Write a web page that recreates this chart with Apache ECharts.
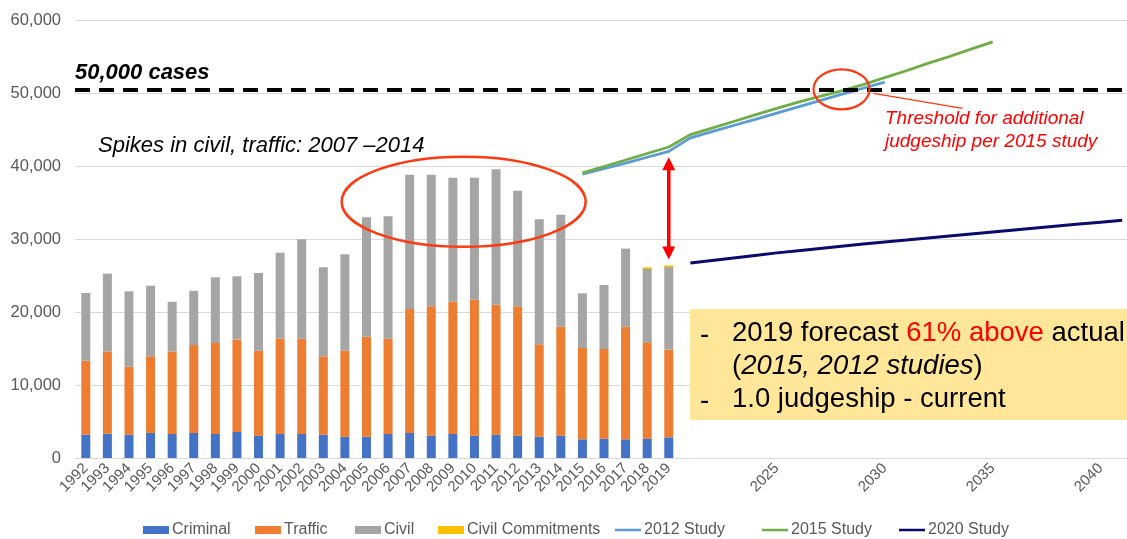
<!DOCTYPE html>
<html>
<head>
<meta charset="utf-8">
<script src="https://cdn.jsdelivr.net/npm/echarts@6/dist/echarts.min.js"></script>
<style>
  html, body { margin: 0; padding: 0; background: #fff; overflow: hidden; }
  /* the plot area runs a few pixels past the right edge of the window */
  #chart { width: 1133px; height: 539px; }
</style>
</head>
<body>
<div id="chart"></div>
<script>
// years on the category axis (2020 is not in the sheet, forecasts start at 2021)
var years = [];
for (var y = 1992; y <= 2019; y++) years.push(String(y));
for (var y2 = 2021; y2 <= 2041; y2++) years.push(String(y2));

// historical filings, 1992-2019
var criminal = [3200, 3330, 3200, 3430, 3290, 3430, 3290, 3560, 3060, 3290, 3290, 3200, 2920, 2920,
  3290, 3430, 3060, 3290, 3060, 3200, 3060, 2920, 3060, 2560, 2650, 2560, 2650, 2830];
var traffic = [10130, 11270, 9300, 10500, 11310, 12050, 12460, 12690, 11640, 13060, 13060, 10730, 11780, 13700,
  13060, 16980, 17720, 18130, 18630, 17800, 17720, 12650, 14930, 12510, 12280, 15430, 13190, 12010];
var civil = [9270, 10650, 10330, 9670, 6800, 7420, 9000, 8640, 10640, 11780, 13600, 12190, 13200, 16350,
  16750, 18400, 18030, 16980, 16710, 18540, 15840, 17130, 15340, 7490, 8770, 10690, 10050, 11320];
var civilCommit = [null, null, null, null, null, null, null, null, null, null, null, null, null, null,
  null, null, null, null, null, null, null, null, null, null, null, null, 230, 230];

// forecasts
var study2012Years = ['2015', '2016', '2017', '2018', '2019', '2021', '2022', '2023', '2024', '2025',
  '2026', '2027', '2028', '2029', '2030'];
var study2012 = [38900, 39650, 40400, 41200, 42000, 43850, 44700, 45550, 46400, 47250,
  48100, 48950, 49800, 50650, 51500];
var study2015Years = ['2015', '2016', '2017', '2018', '2019', '2021', '2022', '2023', '2024', '2025',
  '2026', '2027', '2028', '2029', '2030', '2031', '2032', '2033', '2034', '2035'];
var study2015 = [39050, 39930, 40820, 41710, 42600, 44300, 45200, 46100, 47000, 47900,
  48750, 49550, 50300, 51150, 52100, 53050, 54050, 55000, 56000, 57000];
var study2020Years = ['2021', '2022', '2023', '2024', '2025', '2026', '2027', '2028', '2029', '2030', '2031',
  '2032', '2033', '2034', '2035', '2036', '2037', '2038', '2039', '2040', '2041'];
var study2020 = [26700, 27050, 27400, 27750, 28100, 28400, 28700, 29000, 29300, 29600, 29850,
  30150, 30420, 30690, 30960, 31230, 31500, 31770, 32040, 32310, 32580];

var threshold = 50500;
var yTicks = [0, 10000, 20000, 30000, 40000, 50000, 60000];

function pad(vals) {
  var out = years.map(function () { return null; });
  vals.forEach(function (v, i) { out[i] = v; });
  return out;
}
function place(ys, vals) {
  var out = years.map(function () { return null; });
  ys.forEach(function (yr, i) { out[years.indexOf(yr)] = vals[i]; });
  return out;
}

var chart = echarts.init(document.getElementById('chart'));
var font = 'Liberation Sans, Arial, sans-serif';
var grey = '#595959';
// thin line icon for the legend (bbox kept at full item height)
var lineIcon = 'path://M0,0L0.01,0M0,8L0.01,8M0,2.8H27V5.2H0Z';

// one legend per entry so the spacing follows the original
var legendItems = [
  ['Criminal', 'rect', 143], ['Traffic', 'rect', 255], ['Civil', 'rect', 355],
  ['Civil Commitments', 'rect', 438], ['2012 Study', lineIcon, 615],
  ['2015 Study', lineIcon, 762], ['2020 Study', lineIcon, 899]
];
var legends = legendItems.map(function (it) {
  return {
    left: it[2], bottom: 1, padding: 0, itemWidth: 26, itemHeight: 8,
    textStyle: { color: grey, fontSize: 16, fontFamily: font, padding: [0, 0, 0, -2] },
    data: [{ name: it[0], icon: it[1] }]
  };
});

function barSeries(name, data, color) {
  return {
    name: name, type: 'bar', stack: 'cases', barWidth: 9,
    itemStyle: { color: color }, data: pad(data)
  };
}
function lineSeries(name, ys, vals, color, width) {
  return {
    name: name, type: 'line', symbol: 'none', connectNulls: true,
    lineStyle: { color: color, width: width }, itemStyle: { color: color },
    data: place(ys, vals)
  };
}

var s2015 = lineSeries('2015 Study', study2015Years, study2015, '#70AD47', 2.8);
s2015.markLine = {
  silent: true, symbol: 'none',
  lineStyle: { color: '#000', width: 4, type: [15, 9] },
  label: {
    show: true, position: 'insideStartTop', distance: [0, 5],
    formatter: '50,000 cases', color: '#000', fontFamily: font,
    fontSize: 22, fontWeight: 'bold', fontStyle: 'italic'
  },
  data: [{ yAxis: threshold }]
};

chart.setOption({
  animation: false,
  textStyle: { fontFamily: font },
  grid: { left: 75, right: 0, top: 20, bottom: 81 },
  legend: legends,
  xAxis: {
    type: 'category', data: years,
    axisLine: { lineStyle: { color: '#d9d9d9' } },
    axisTick: { show: false },
    axisLabel: {
      rotate: 45, margin: 8, color: grey, fontSize: 15, fontFamily: font,
      hideOverlap: false,
      interval: function (i, v) { return +v <= 2019 || +v % 5 === 0; }
    }
  },
  yAxis: {
    type: 'value', min: yTicks[0], max: yTicks[yTicks.length - 1], interval: 10000,
    axisLine: { show: false }, axisTick: { show: false },
    splitLine: { lineStyle: { color: '#d9d9d9' } },
    axisLabel: {
      margin: 14, color: grey, fontSize: 16.5, fontFamily: font,
      formatter: function (v) { return v.toLocaleString('en-US'); }
    }
  },
  series: [
    barSeries('Criminal', criminal, '#4472C4'),
    barSeries('Traffic', traffic, '#ED7D31'),
    barSeries('Civil', civil, '#A5A5A5'),
    barSeries('Civil Commitments', civilCommit, '#FFC000'),
    lineSeries('2012 Study', study2012Years, study2012, '#5B9BD5', 2.8),
    s2015,
    lineSeries('2020 Study', study2020Years, study2020, '#0B0B6B', 3)
  ]
});

// annotations anchored on data coordinates
function px(cat, val) { return chart.convertToPixel({ gridIndex: 0 }, [cat, val]); }
var a = px('2009', 35100), b = px('2010', 35100);
var bigC = [(a[0] + b[0]) / 2, a[1]];
var smallC = px('2028', threshold);
var arrTop = px('2019', 41200), arrBot = px('2019', 27200);
var red = '#FF0000', orangeRed = '#FF3A12';

chart.setOption({
  graphic: [
    { type: 'ellipse', shape: { cx: bigC[0], cy: bigC[1], rx: 122, ry: 45 },
      style: { fill: 'none', stroke: orangeRed, lineWidth: 2.5 }, z: 100 },
    { type: 'ellipse', shape: { cx: smallC[0], cy: smallC[1], rx: 28, ry: 20 },
      style: { fill: 'none', stroke: orangeRed, lineWidth: 2.2 }, z: 100 },
    { type: 'line', shape: { x1: smallC[0] + 32, y1: smallC[1] + 4, x2: smallC[0] + 121, y2: smallC[1] + 19 },
      style: { stroke: orangeRed, lineWidth: 1.3 }, z: 100 },
    { type: 'text', left: 885, top: 107, z: 100,
      style: { text: 'Threshold for additional\njudgeship per 2015 study', fill: red,
        font: 'italic 19px ' + font, lineHeight: 23 } },
    { type: 'text', left: 98, top: 135, z: 100,
      style: { text: 'Spikes in civil, traffic: 2007 \u20132014', fill: '#000',
        font: 'italic 22px ' + font } },
    // double arrow
    { type: 'line', shape: { x1: arrTop[0], y1: arrTop[1] + 10, x2: arrBot[0], y2: arrBot[1] - 10 },
      style: { stroke: red, lineWidth: 3.5 }, z: 100 },
    { type: 'polygon', shape: { points: [[arrTop[0], arrTop[1]], [arrTop[0] - 6.5, arrTop[1] + 13], [arrTop[0] + 6.5, arrTop[1] + 13]] },
      style: { fill: red }, z: 100 },
    { type: 'polygon', shape: { points: [[arrBot[0], arrBot[1]], [arrBot[0] - 6.5, arrBot[1] - 13], [arrBot[0] + 6.5, arrBot[1] - 13]] },
      style: { fill: red }, z: 100 },
    // note box
    { type: 'rect', shape: { x: 690, y: 309, width: 450, height: 111 },
      style: { fill: '#FFE699' }, z: 90 },
    { type: 'text', left: 700, top: 319, z: 100,
      style: { text: '-\n\n-', fill: '#000', font: '27.5px ' + font, lineHeight: 33 } },
    { type: 'text', left: 732, top: 319, z: 100,
      style: {
        text: '{n|2019 forecast }{r|61% above}{n| actual}\n{n|(}{i|2015, 2012 studies}{n|)}\n{n|1.0 judgeship - current}',
        rich: {
          n: { fill: '#000', fontSize: 27.5, fontFamily: font, lineHeight: 33 },
          r: { fill: red, fontSize: 27.5, fontFamily: font, lineHeight: 33 },
          i: { fill: '#000', fontSize: 27.5, fontFamily: font, fontStyle: 'italic', lineHeight: 33 }
        }
      } }
  ]
});
</script>
</body>
</html>
